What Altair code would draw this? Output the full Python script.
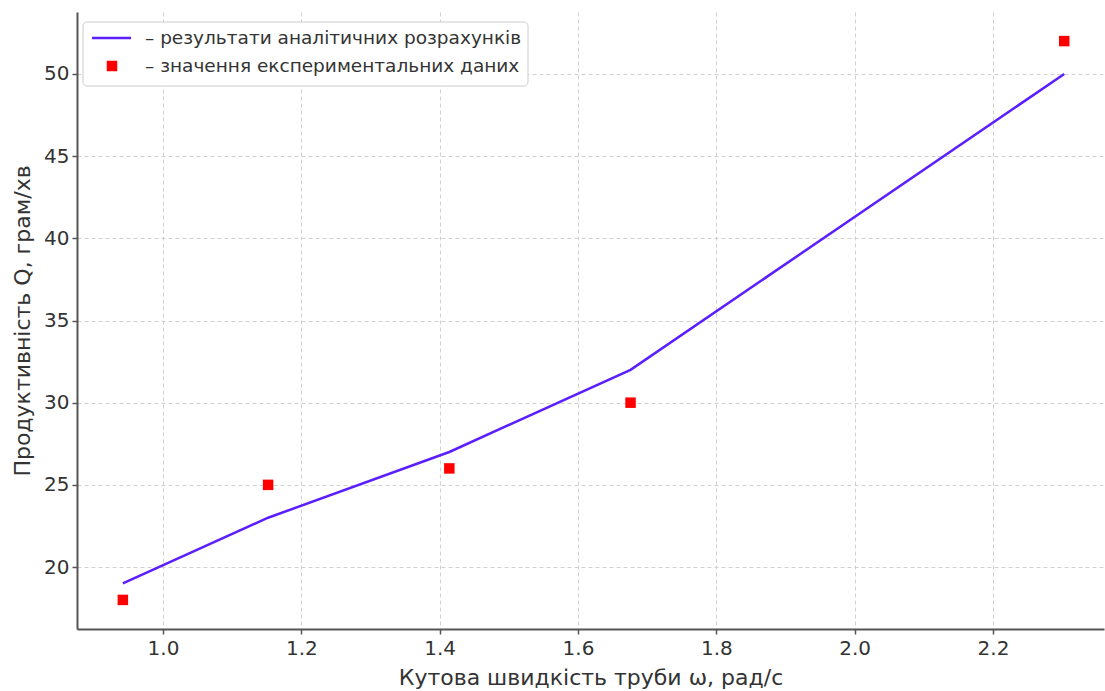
import altair as alt
import pandas as pd

# Data
omega = [0.942, 1.152, 1.414, 1.676, 2.303]
q_analytic = [19, 23, 27, 32, 50]
q_experiment = [18, 25, 26, 30, 52]

x_ticks = [1.0, 1.2, 1.4, 1.6, 1.8, 2.0, 2.2]
y_ticks = [20, 25, 30, 35, 40, 45, 50]

legend_labels = ["– результати аналітичних розрахунків",
                 "– значення експериментальних даних"]

x_title = "Кутова швидкість труби ω, рад/с"
y_title = "Продуктивність Q, грам/хв"

LINE_COLOR = "#5b1fff"
MARK_COLOR = "#ff0000"
FONT = "DejaVu Sans"

df = pd.DataFrame({"omega": omega, "qa": q_analytic, "qe": q_experiment})

W, H = 1027, 617

xscale = alt.Scale(domain=[0.8757, 2.3605], nice=False, zero=False)
yscale = alt.Scale(domain=[16.23, 53.77], nice=False, zero=False)

xaxis = alt.Axis(values=x_ticks, format=".1f", title=x_title,
                 titleX=W / 2, titleY=48, titleBaseline="middle",
                 labelPadding=4)
yaxis = alt.Axis(values=y_ticks, format="d", title=y_title,
                 titleX=-55, titleY=H / 2, titleBaseline="middle",
                 labelPadding=3)

base = alt.Chart(df)

line = base.mark_line(color=LINE_COLOR, strokeWidth=2.5).encode(
    x=alt.X("omega:Q", scale=xscale, axis=xaxis),
    y=alt.Y("qa:Q", scale=yscale, axis=yaxis),
)

pts = base.mark_square(color=MARK_COLOR, size=110, opacity=1).encode(
    x=alt.X("omega:Q", scale=xscale),
    y=alt.Y("qe:Q", scale=yscale),
)

# Legend (drawn manually, inside the plot area at upper left)
one = pd.DataFrame({"a": [0]})
lg = alt.Chart(one)
box = lg.mark_rect(fill="white", stroke="#cccccc", strokeWidth=1,
                   cornerRadius=4, opacity=1).encode(
    x=alt.value(6), x2=alt.value(451), y=alt.value(10), y2=alt.value(74))
swatch = lg.mark_rule(color=LINE_COLOR, strokeWidth=2.5).encode(
    x=alt.value(15), x2=alt.value(54), y=alt.value(26))
sq = lg.mark_square(color=MARK_COLOR, size=110, opacity=1).encode(
    x=alt.value(35), y=alt.value(54))
t1 = lg.mark_text(text=legend_labels[0], align="left", baseline="middle",
                  font=FONT, fontSize=18.5, color="#333333").encode(
    x=alt.value(68), y=alt.value(26))
t2 = lg.mark_text(text=legend_labels[1], align="left", baseline="middle",
                  font=FONT, fontSize=18.5, color="#333333").encode(
    x=alt.value(68), y=alt.value(54))

chart = alt.layer(line, pts, box, swatch, sq, t1, t2).properties(
    width=W, height=H,
    autosize=alt.AutoSizeParams(type="none"),
    padding={"left": 77, "top": 12, "right": 1, "bottom": 62},
    background="white",
).configure_view(stroke=None).configure_axis(
    labelFont=FONT, titleFont=FONT, labelFontSize=20, titleFontSize=22,
    labelColor="#333333", titleColor="#333333", titleFontWeight="normal",
    domainColor="#555555", domainWidth=2, tickColor="#555555",
    tickWidth=1.5, tickSize=5,
    gridColor="#d0d0d0", gridDash=[4, 3], gridWidth=1,
)

chart.save("out.html", embed_options={"renderer": "svg", "actions": False})
